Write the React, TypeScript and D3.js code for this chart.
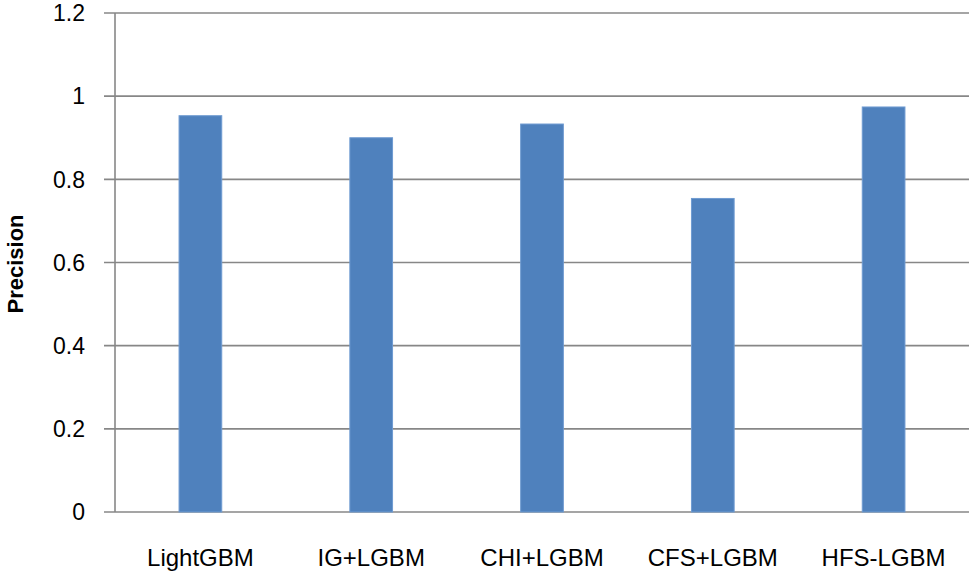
import React, { useEffect, useRef } from 'react';
import * as d3 from 'd3';

const categories = ['LightGBM', 'IG+LGBM', 'CHI+LGBM', 'CFS+LGBM', 'HFS-LGBM'];
const precision = [0.953, 0.9, 0.933, 0.754, 0.974];
const yTicks = [0, 0.2, 0.4, 0.6, 0.8, 1, 1.2];

const App = () => {
  const svgRef = useRef<SVGSVGElement | null>(null);

  useEffect(() => {
    if (!svgRef.current) return;
    d3.select(svgRef.current).selectAll('*').remove();

    const width = 975;
    const height = 577;
    const margin = { top: 13, right: 6, bottom: 65, left: 115 };
    const font = '"Liberation Sans", Arial, sans-serif';

    const svg = d3.select(svgRef.current)
      .attr('width', width)
      .attr('height', height)
      .style('display', 'block')
      .style('background', '#fff');

    const x = d3.scaleBand<string>()
      .domain(categories)
      .range([margin.left, width - margin.right])
      .padding(0);

    const y = d3.scaleLinear()
      .domain([0, 1.2])
      .range([height - margin.bottom, margin.top]);

    // Gridlines with tick stubs
    yTicks.forEach(t => {
      svg.append('line')
        .attr('x1', margin.left - 11)
        .attr('x2', width - margin.right)
        .attr('y1', y(t))
        .attr('y2', y(t))
        .attr('stroke', '#878787')
        .attr('stroke-width', 1.6);

      svg.append('text')
        .attr('x', 85)
        .attr('y', y(t))
        .attr('dy', '0.36em')
        .attr('text-anchor', 'end')
        .attr('font-family', font)
        .attr('font-size', '23px')
        .attr('fill', '#000')
        .text(t === 0 || t === 1 ? String(t) : t.toFixed(1));
    });

    // Y axis line
    svg.append('line')
      .attr('x1', margin.left)
      .attr('x2', margin.left)
      .attr('y1', y(1.2))
      .attr('y2', y(0))
      .attr('stroke', '#878787')
      .attr('stroke-width', 1.6);

    // Bars
    const barW = x.bandwidth() * 0.25;
    categories.forEach((c, i) => {
      const cx = (x(c) as number) + x.bandwidth() / 2;
      svg.append('rect')
        .attr('x', cx - barW / 2)
        .attr('y', y(precision[i]))
        .attr('width', barW)
        .attr('height', y(0) - y(precision[i]))
        .attr('fill', '#4f81bd')
        .attr('stroke', '#6f9bd1')
        .attr('stroke-width', 1);

      svg.append('text')
        .attr('x', cx)
        .attr('y', 566)
        .attr('text-anchor', 'middle')
        .attr('font-family', font)
        .attr('font-size', '24px')
        .attr('fill', '#000')
        .text(c);
    });

    // Y axis title
    svg.append('text')
      .attr('transform', `translate(23, 264) rotate(-90)`)
      .attr('text-anchor', 'middle')
      .attr('font-family', font)
      .attr('font-size', '22px')
      .attr('font-weight', 'bold')
      .attr('fill', '#000')
      .text('Precision');
  }, []);

  return (
    <div style={{ position: 'fixed', left: 0, top: 0 }}>
      <svg ref={svgRef}></svg>
    </div>
  );
};

export default App;
